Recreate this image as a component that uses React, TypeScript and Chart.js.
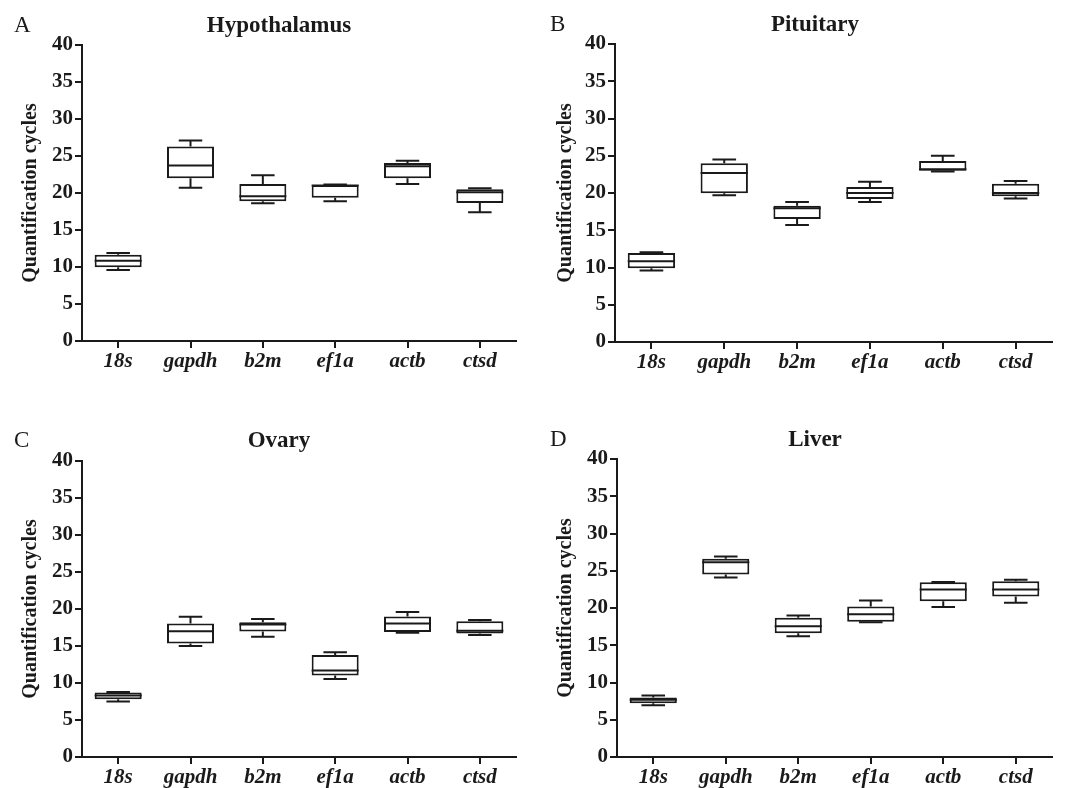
import React, { useEffect, useRef } from "react";
import { Chart, registerables } from "chart.js";

Chart.register(...registerables);

const genes = ["18s", "gapdh", "b2m", "ef1a", "actb", "ctsd"];
const yTickValues = [0, 5, 10, 15, 20, 25, 30, 35, 40];
const yAxisTitle = "Quantification cycles";

// A – Hypothalamus
const hypoMin = [9.6, 20.7, 18.6, 18.9, 21.2, 17.4];
const hypoQ1 = [9.95, 22.0, 18.9, 19.35, 22.0, 18.65];
const hypoMed = [10.85, 23.7, 19.55, 21.0, 23.6, 20.1];
const hypoQ3 = [11.65, 26.3, 21.2, 21.08, 24.05, 20.5];
const hypoMax = [11.9, 27.1, 22.4, 21.15, 24.35, 20.65];

// B – Pituitary
const pitMin = [9.6, 19.7, 15.7, 18.8, 22.9, 19.25];
const pitQ1 = [9.9, 19.95, 16.5, 19.2, 23.0, 19.55];
const pitMed = [10.85, 22.7, 17.95, 20.0, 23.2, 20.0];
const pitQ3 = [11.95, 24.0, 18.3, 20.8, 24.3, 21.25];
const pitMax = [12.05, 24.5, 18.8, 21.5, 25.0, 21.6];

// C – Ovary
const ovaMin = [7.5, 15.0, 16.25, 10.55, 16.8, 16.5];
const ovaQ1 = [7.8, 15.35, 16.95, 11.0, 16.9, 16.7];
const ovaMed = [8.3, 17.0, 17.9, 11.7, 18.05, 17.05];
const ovaQ3 = [8.7, 18.05, 18.2, 13.8, 19.0, 18.35];
const ovaMax = [8.8, 18.95, 18.65, 14.15, 19.6, 18.5];

// D – Liver
const livMin = [6.95, 24.1, 16.2, 18.1, 20.15, 20.7];
const livQ1 = [7.2, 24.5, 16.6, 18.15, 20.9, 21.55];
const livMed = [7.7, 26.15, 17.55, 19.15, 22.5, 22.5];
const livQ3 = [8.0, 26.6, 18.7, 20.2, 23.45, 23.6];
const livMax = [8.25, 26.9, 19.0, 21.0, 23.5, 23.8];

const SERIF = "'Liberation Serif', 'Times New Roman', Times, serif";

type PanelCfg = {
  letter: string;
  title: string;
  min: number[];
  q1: number[];
  med: number[];
  q3: number[];
  max: number[];
  left: number;
  top: number;
  axisWidth: number;
  padTop: number;
  xAxisHeight: number;
  titleBase: number;
  yTitlePad: number;
};

const panels: PanelCfg[] = [
  { letter: "A", title: "Hypothalamus", min: hypoMin, q1: hypoQ1, med: hypoMed, q3: hypoQ3, max: hypoMax,
    left: 0, top: 0, axisWidth: 82, padTop: 45, xAxisHeight: 53, titleBase: 32, yTitlePad: 19 },
  { letter: "B", title: "Pituitary", min: pitMin, q1: pitQ1, med: pitMed, q3: pitQ3, max: pitMax,
    left: 536, top: 0, axisWidth: 79, padTop: 44, xAxisHeight: 52, titleBase: 31, yTitlePad: 18 },
  { letter: "C", title: "Ovary", min: ovaMin, q1: ovaQ1, med: ovaMed, q3: ovaQ3, max: ovaMax,
    left: 0, top: 394, axisWidth: 82, padTop: 67, xAxisHeight: 31, titleBase: 53, yTitlePad: 19 },
  { letter: "D", title: "Liver", min: livMin, q1: livQ1, med: livMed, q3: livQ3, max: livMax,
    left: 536, top: 394, axisWidth: 81, padTop: 65, xAxisHeight: 31, titleBase: 52, yTitlePad: 18 },
];

const whiskerPlugin = {
  id: "whiskers",
  afterDatasetsDraw(chart: any, _args: any, opts: any) {
    const { ctx } = chart;
    const yScale = chart.scales.y;
    const meta = chart.getDatasetMeta(0);
    ctx.save();
    ctx.strokeStyle = "#1a1a1a";
    ctx.lineWidth = 2;
    ctx.lineCap = "butt";
    meta.data.forEach((bar: any, i: number) => {
      const x = bar.x;
      const half = bar.width / 2;
      const cap = bar.width / 4;
      const yMin = yScale.getPixelForValue(opts.min[i]);
      const yQ1 = yScale.getPixelForValue(opts.q1[i]);
      const yMed = yScale.getPixelForValue(opts.med[i]);
      const yQ3 = yScale.getPixelForValue(opts.q3[i]);
      const yMax = yScale.getPixelForValue(opts.max[i]);
      ctx.beginPath();
      ctx.moveTo(x - half, yMed);
      ctx.lineTo(x + half, yMed);
      ctx.moveTo(x, yQ3);
      ctx.lineTo(x, yMax);
      ctx.moveTo(x - cap, yMax);
      ctx.lineTo(x + cap, yMax);
      ctx.moveTo(x, yQ1);
      ctx.lineTo(x, yMin);
      ctx.moveTo(x - cap, yMin);
      ctx.lineTo(x + cap, yMin);
      ctx.stroke();
    });
    ctx.restore();
  },
};

const headingPlugin = {
  id: "heading",
  afterDraw(chart: any, _args: any, opts: any) {
    const { ctx } = chart;
    ctx.save();
    ctx.fillStyle = "#1a1a1a";
    ctx.textBaseline = "alphabetic";
    ctx.textAlign = "left";
    ctx.font = `23px ${SERIF}`;
    ctx.fillText(opts.letter, 14, opts.base);
    ctx.textAlign = "center";
    ctx.font = `bold 23px ${SERIF}`;
    ctx.fillText(opts.title, opts.centerX, opts.base);
    ctx.restore();
  },
};

function Panel({ cfg }: { cfg: PanelCfg }) {
  const ref = useRef<HTMLCanvasElement>(null);
  useEffect(() => {
    const boxes = cfg.q1.map((v, i) => [v, cfg.q3[i]]);
    const chart = new Chart(ref.current as HTMLCanvasElement, {
      type: "bar",
      data: {
        labels: genes,
        datasets: [
          {
            data: boxes as any,
            backgroundColor: "#ffffff",
            borderColor: "#1a1a1a",
            borderWidth: 2,
            borderSkipped: false,
            barPercentage: 0.65,
            categoryPercentage: 1,
          },
        ],
      },
      options: {
        responsive: false,
        animation: false,
        devicePixelRatio: 1,
        layout: { padding: { top: cfg.padTop, right: 20, bottom: 0, left: 0 } },
        plugins: {
          legend: { display: false },
          tooltip: { enabled: false },
          title: { display: false },
          whiskers: { min: cfg.min, q1: cfg.q1, med: cfg.med, q3: cfg.q3, max: cfg.max },
          heading: { letter: cfg.letter, title: cfg.title, base: cfg.titleBase, centerX: 279 },
        } as any,
        scales: {
          x: {
            type: "category",
            offset: true,
            grid: { display: true, drawOnChartArea: false, drawTicks: true, tickLength: 7, offset: false, color: "#1a1a1a", lineWidth: 2 },
            border: { display: true, color: "#1a1a1a", width: 2 },
            ticks: {
              color: "#1a1a1a",
              padding: 1,
              font: { family: SERIF, size: 21, weight: "bold", style: "italic" },
              maxRotation: 0,
            },
            afterFit: (s: any) => {
              s.height = cfg.xAxisHeight;
            },
          },
          y: {
            type: "linear",
            min: 0,
            max: 40,
            afterBuildTicks: (s: any) => {
              s.ticks = yTickValues.map((v) => ({ value: v }));
            },
            grid: { display: true, drawOnChartArea: false, drawTicks: true, tickLength: 7, color: "#1a1a1a", lineWidth: 2 },
            border: { display: true, color: "#1a1a1a", width: 2 },
            ticks: {
              color: "#1a1a1a",
              padding: 2,
              font: { family: SERIF, size: 21, weight: "bold" },
            },
            title: {
              display: true,
              text: yAxisTitle,
              color: "#1a1a1a",
              font: { family: SERIF, size: 20, weight: "bold" },
              padding: { top: cfg.yTitlePad, bottom: 0 },
            },
            afterFit: (s: any) => {
              s.width = cfg.axisWidth;
            },
          },
        },
      },
      plugins: [whiskerPlugin, headingPlugin],
    });
    return () => chart.destroy();
  }, []);
  return (
    <canvas
      ref={ref}
      width={536}
      height={394}
      style={{ position: "absolute", left: cfg.left, top: cfg.top, width: 536, height: 394 }}
    />
  );
}

export default function App() {
  return (
    <div style={{ position: "absolute", left: 0, top: 0, width: 1072, height: 788, background: "#ffffff", overflow: "hidden" }}>
      {panels.map((p) => (
        <Panel key={p.letter} cfg={p} />
      ))}
    </div>
  );
}
